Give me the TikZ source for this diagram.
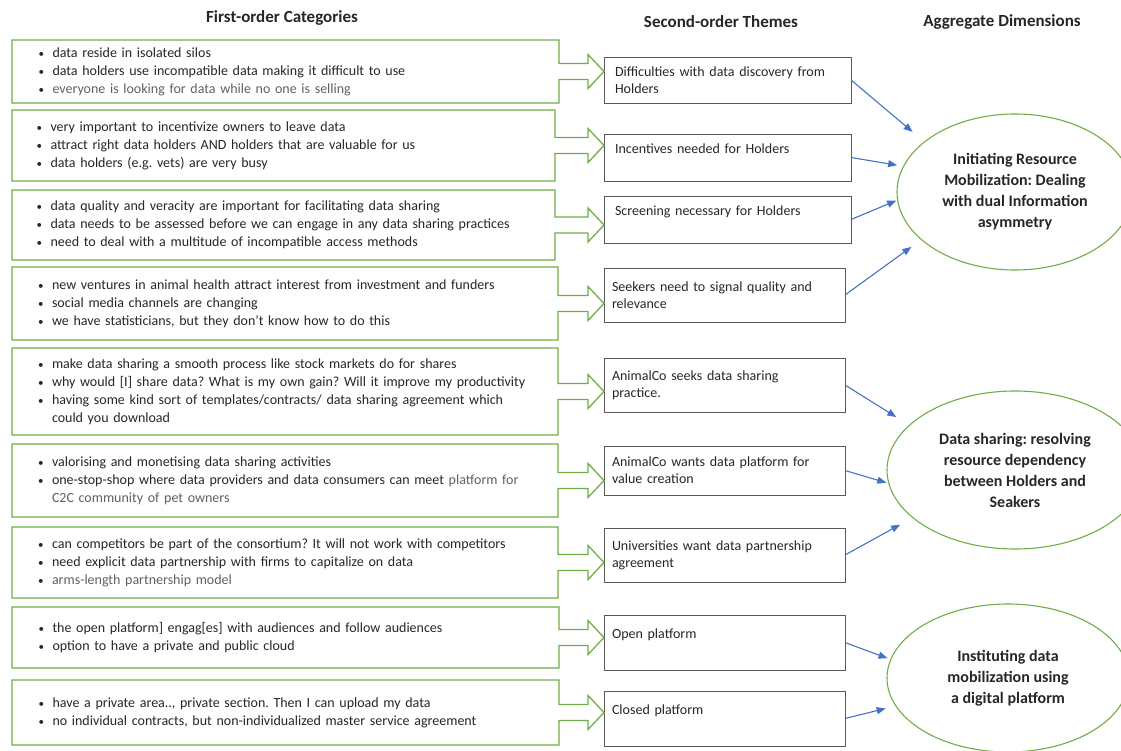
\documentclass[tikz,border=0pt]{standalone}
\usepackage{fontspec}
\setmainfont{Carlito}
\usetikzlibrary{shapes.geometric,calc,arrows.meta}
\definecolor{catgreen}{HTML}{70AD47}
\definecolor{linkblue}{HTML}{4472C4}
\definecolor{boxgray}{HTML}{595959}
\definecolor{txtdark}{HTML}{262626}
\definecolor{txtgray}{HTML}{606060}
\newcommand{\itm}{\makebox[14pt][l]{\fontsize{11}{11}\selectfont\textbullet}}
\newcommand{\soft}[1]{\textcolor{txtgray}{#1}}
\frenchspacing
\begin{document}
\begin{tikzpicture}[
  x=1pt, y=-1pt,
  head/.style={font=\fontsize{17}{20}\selectfont\bfseries,text=txtdark},
  catbox/.style={anchor=north west,inner sep=0pt,outer sep=0pt,text width=494pt,
                 align=left,font=\fontsize{14}{18}\selectfont,text=txtdark},
  theme/.style={draw=boxgray,line width=0.8pt,anchor=north west,outer sep=0pt,
                inner xsep=8pt,text width=225pt,align=left,
                font=\fontsize{14}{17}\selectfont,text=txtdark},
  aggell/.style={ellipse,draw=catgreen,line width=1.1pt,inner sep=0pt,align=center,
                 font=\fontsize{16}{21}\selectfont\bfseries,text=txtdark},
  catline/.style={draw=catgreen,line width=1.3pt,line join=miter},
  link/.style={draw=linkblue,line width=1.1pt,-{Triangle[length=9pt,width=7pt]}},
]
\useasboundingbox (0,0) rectangle (1121,751);
\clip (0,0) rectangle (1121,751);

% Column headings
\node[head] (hcat) at (282,18) {First-order Categories};
\node[head] (hthm) at (721,22) {Second-order Themes};
\node[head] (hagg) at (1002,22) {Aggregate Dimensions};

% First-order categories
\node[catbox,minimum width=547,minimum height=63] (c1) at (12,40)
  {\itm data reside in isolated silos\\
   \itm data holders use incompatible data making it difficult to use\\
   \itm \soft{everyone is looking for data while no one is selling}};
\node[catbox,minimum width=543,minimum height=71] (c2) at (12,110)
  {\itm very important to incentivize owners to leave data\\
   \itm attract right data holders AND holders that are valuable for us\\
   \itm data holders (e.g. vets) are very busy};
\node[catbox,minimum width=543,minimum height=70] (c3) at (12,190)
  {\itm data quality and veracity are important for facilitating data sharing\\
   \itm data needs to be assessed before we can engage in any data sharing practices\\
   \itm need to deal with a multitude of incompatible access methods};
\node[catbox,minimum width=546,minimum height=73] (c4) at (12,267)
  {\itm new ventures in animal health attract interest from investment and funders\\
   \itm social media channels are changing\\
   \itm we have statisticians, but they don’t know how to do this};
\node[catbox,minimum width=546,minimum height=87] (c5) at (12,348)
  {\itm make data sharing a smooth process like stock markets do for shares\\
   \itm why would [I] share data? What is my own gain? Will it improve my productivity\\
   \itm having some kind sort of templates/contracts/ data sharing agreement which\\
   \hspace*{14pt}could you download};
\node[catbox,minimum width=546,minimum height=73] (c6) at (12,444)
  {\itm valorising and monetising data sharing activities\\
   \itm one-stop-shop where data providers and data consumers can meet \soft{platform for}\\
   \hspace*{14pt}\soft{C2C community of pet owners}};
\node[catbox,minimum width=546,minimum height=71] (c7) at (12,527)
  {\itm can competitors be part of the consortium? It will not work with competitors\\
   \itm need explicit data partnership with firms to capitalize on data\\
   \itm \soft{arms-length partnership model}};
\node[catbox,minimum width=547,minimum height=61] (c8) at (12,607)
  {\itm the open platform] engag[es] with audiences and follow audiences\\
   \itm option to have a private and public cloud};
\node[catbox,minimum width=547,minimum height=65] (c9) at (12,680)
  {\itm have a private area.., private section. Then I can upload my data\\
   \itm no individual contracts, but non-individualized master service agreement};

% Second-order themes
\node[theme,minimum width=247,minimum height=46] (thA) at (604,57)
  {Difficulties with data discovery from\\Holders};
\node[theme,minimum width=247,minimum height=47] (thB) at (604,134)
  {Incentives needed for Holders\\\mbox{}};
\node[theme,minimum width=247,minimum height=47] (thC) at (604,196)
  {Screening necessary for Holders\\\mbox{}};
\node[theme,minimum width=241,minimum height=54] (thD) at (604,268)
  {Seekers need to signal quality and\\relevance};
\node[theme,minimum width=241,minimum height=54] (thE) at (604,358)
  {AnimalCo seeks data sharing\\practice.};
\node[theme,minimum width=241,minimum height=49] (thF) at (604,446)
  {AnimalCo wants data platform for\\value creation};
\node[theme,minimum width=241,minimum height=54] (thG) at (604,528)
  {Universities want data partnership\\agreement};
\node[theme,minimum width=241,minimum height=55] (thH) at (604,615)
  {Open platform\\\mbox{}};
\node[theme,minimum width=241,minimum height=55] (thI) at (604,691)
  {Closed platform\\\mbox{}};

% Aggregate dimensions
\node[aggell,minimum width=236,minimum height=156] (agg1) at (1015,192)
  {Initiating Resource\\Mobilization: Dealing\\with dual Information\\asymmetry};
\node[aggell,minimum width=256,minimum height=158] (agg2) at (1015,470)
  {Data sharing: resolving\\resource dependency\\between Holders and\\Seakers};
\node[aggell,minimum width=242,minimum height=148] (agg3) at (1008,678)
  {Instituting data\\mobilization using\\a digital platform};

% Green box arrows: category -> theme
\foreach \cbox/\tbox in {c1/thA,c2/thB,c3/thC,c4/thD,c5/thE,c6/thF,c7/thG,c8/thH,c9/thI}
  \draw[catline] (\cbox.north west) -- (\cbox.north east)
    -- ($(\cbox.east)+(0,-8)$) -- ($(\cbox.east -| \tbox.west)+(-16,-8)$)
    -- ++(0,-9) -- (\cbox.east -| \tbox.west) -- ++(-16,17) -- ++(0,-9)
    -- ($(\cbox.east)+(0,8)$) -- (\cbox.south east) -- (\cbox.south west) -- cycle;

% Blue arrows: theme -> dimension
\foreach \tbox/\agg/\ang/\gap in {thA/agg1/151/15,thB/agg1/167/6,thC/agg1/184/1,
    thD/agg1/207/12,thE/agg2/157/15,thF/agg2/186/2,thG/agg2/205/14,
    thH/agg3/171/3,thI/agg3/194/10}
  \draw[link,shorten >=\gap pt] (\tbox.east) -- (\agg.\ang);

\end{tikzpicture}
\end{document}
